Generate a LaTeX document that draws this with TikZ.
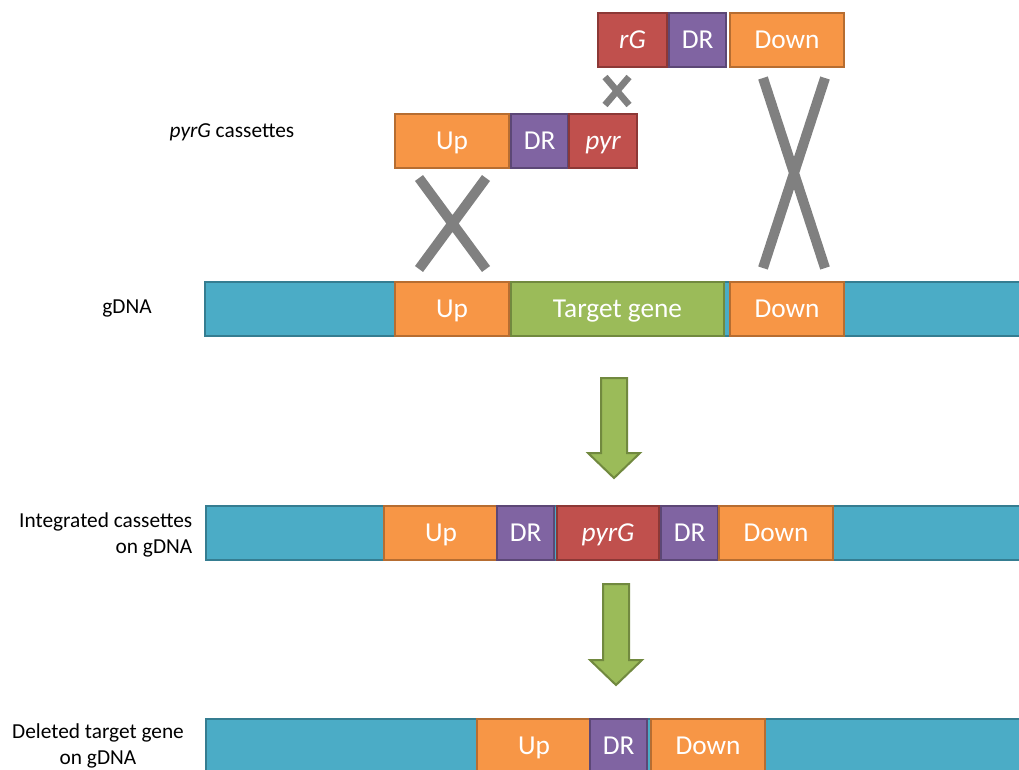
\documentclass[tikz,border=0pt]{standalone}
\usepackage{fontspec}
\setmainfont{Carlito}
\usetikzlibrary{positioning}

\definecolor{dnafill}{HTML}{4BACC6}
\definecolor{dnaline}{HTML}{357D91}
\definecolor{flankfill}{HTML}{F79646}
\definecolor{flankline}{HTML}{B66D31}
\definecolor{drfill}{HTML}{8064A2}
\definecolor{drline}{HTML}{5C4776}
\definecolor{markfill}{HTML}{C0504D}
\definecolor{markline}{HTML}{8C3836}
\definecolor{genefill}{HTML}{9BBB59}
\definecolor{geneline}{HTML}{71893F}
\definecolor{crossgray}{HTML}{808080}

\begin{document}
\begin{tikzpicture}[x=0.75pt,y=-0.75pt]
\tikzstyle{seg}=[rectangle, draw, line width=1.5pt, minimum height=40.5pt, inner sep=0pt, text=white, text height=16pt, text depth=2.8pt, font=\fontsize{20.5}{20.5}\selectfont, anchor=north west]
\tikzstyle{dna}=[seg, fill=dnafill, draw=dnaline, minimum width=620pt]
\tikzstyle{flank}=[seg, fill=flankfill, draw=flankline, minimum width=85.5pt]
\tikzstyle{dr}=[seg, fill=drfill, draw=drline, minimum width=43pt]
\tikzstyle{marker}=[seg, fill=markfill, draw=markline, font=\fontsize{20.5}{20.5}\selectfont\itshape]
\tikzstyle{gene}=[seg, fill=genefill, draw=geneline, minimum width=159.75pt]
\tikzstyle{label}=[font=\fontsize{16}{19.5}\selectfont, align=center]
\tikzstyle{cross}=[line width=7.5pt, draw=crossgray]
\tikzstyle{flow}=[line width=1.5pt, fill=genefill, draw=geneline, line join=miter]

  \clip (0,0) rectangle (1019,769);

  % cassettes
  \node[marker, minimum width=51.75pt] (rG) at (597,12) {rG};
  \node[dr]    (dr0)   at (668,12) {DR};
  \node[flank] (down0) at (729,12) {Down};
  \node[flank] (up1)   at (394,113) {Up};
  \node[dr]    (dr1)   at (510,113) {DR};
  \node[marker, minimum width=51pt] (pyr) at (568,113) {pyr};

  % gDNA
  \node[dna]   (dna1)   at (204,281) {};
  \node[flank] (up2)    at (394,281) {Up};
  \node[gene]  (target) at (510,281) {Target gene};
  \node[flank] (down2)  at (729,281) {Down};

  % integrated
  \node[dna]   (dna2)  at (205,505) {};
  \node[flank] (up3)   at (383,505) {Up};
  \node[dr]    (dr3)   at (496,505) {DR};
  \node[marker, minimum width=76.5pt] (pyrG) at (556,505) {pyrG};
  \node[dr]    (dr4)   at (660,505) {DR};
  \node[flank] (down3) at (718,505) {Down};

  % deleted
  \node[dna]   (dna3)  at (205,718) {};
  \node[flank] (up4)   at (476,718) {Up};
  \node[dr]    (dr5)   at (589,718) {DR};
  \node[flank] (down4) at (650,718) {Down};

  % crossovers
  \draw[cross] (419,178) -- (486,269) (486,178) -- (419,269);
  \draw[cross, line width=5pt] (605,77) -- (629,105) (629,77) -- (605,105);
  \draw[cross] (763,78) -- (825,268) (825,78) -- (763,268);

  % steps
  \foreach \cx/\top/\tip in {614/378/478, 616/584/685}
    \draw[flow] (\cx-13,\top) -- (\cx+13,\top) -- (\cx+13,\tip-25) -- (\cx+26,\tip-25)
      -- (\cx,\tip) -- (\cx-26,\tip-25) -- (\cx-13,\tip-25) -- cycle;

  \node[label] (lcas) at (232,132) {\textit{pyrG} cassettes};
  \node[label] (lgdna) at (127,308) {gDNA};
  \node[label, align=right, anchor=east] (lint) at (197,535) {Integrated cassettes\\on gDNA};
  \node[label] (ldel) at (98,746) {Deleted target gene\\on gDNA};

\end{tikzpicture}
\end{document}
